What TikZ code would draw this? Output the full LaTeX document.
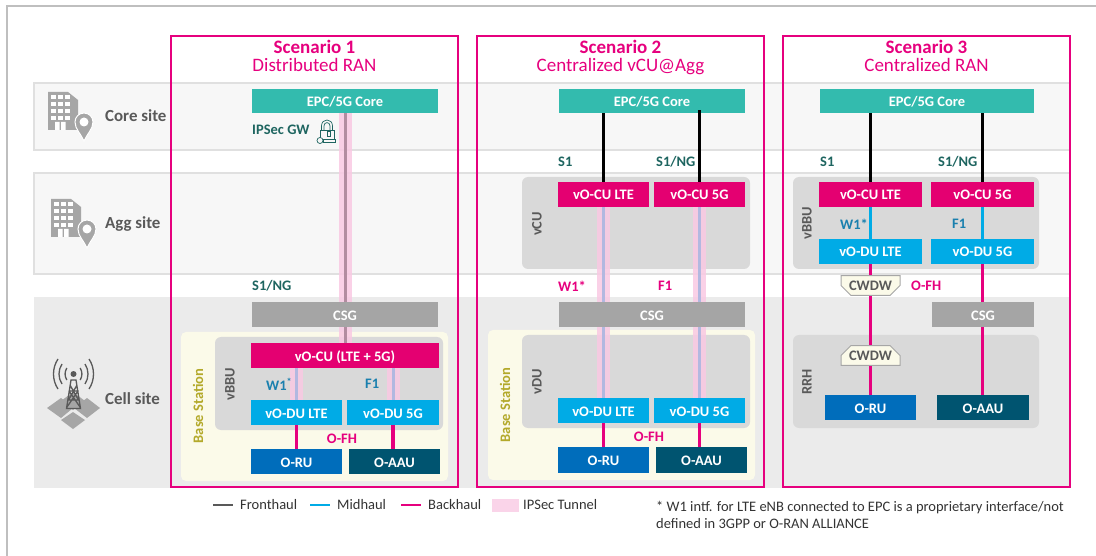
\documentclass[tikz,border=0pt]{standalone}
\usepackage{fontspec}
\setmainfont{Carlito}
\usepackage{xcolor}
\usetikzlibrary{shapes,arrows.meta,positioning,calc}
\definecolor{ranpink}{RGB}{230,0,126}
\definecolor{cupink}{RGB}{228,0,113}
\definecolor{coreteal}{RGB}{51,187,174}
\definecolor{ducyan}{RGB}{0,171,230}
\definecolor{rublue}{RGB}{0,109,187}
\definecolor{aaublue}{RGB}{0,84,112}
\definecolor{csggray}{RGB}{165,165,165}
\definecolor{boxgray}{RGB}{217,217,217}
\definecolor{textgray}{RGB}{89,89,89}
\definecolor{labelgreen}{RGB}{30,101,96}
\definecolor{labelblue}{RGB}{26,128,174}
\definecolor{stationyellow}{RGB}{251,250,233}
\definecolor{stationtext}{RGB}{179,169,42}
\definecolor{tunnelpink}{RGB}{249,201,227}
\definecolor{tunnelgray}{RGB}{178,140,160}
\definecolor{tunnelblue}{RGB}{178,184,224}
\definecolor{iconedge}{RGB}{166,166,166}
\pgfdeclarelayer{under}
\pgfdeclarelayer{wires}
\pgfsetlayers{under,wires,main}
\begin{document}
\begin{tikzpicture}[
    x=1pt, y=-1pt,
    region/.style={rectangle, inner sep=0pt, text height=12pt, text depth=1pt, font=\fontsize{14.5}{16}\selectfont\bfseries, text=white, align=center},
    band/.style={rectangle, draw=black!12, line width=2pt, fill=black!3, minimum width=1036pt},
    holder/.style={rectangle, rounded corners=6pt, fill=boxgray, minimum width=228pt},
    station/.style={rectangle, rounded corners=5pt, fill=stationyellow, minimum width=267pt},
    scenario/.style={rectangle, draw=ranpink, line width=2pt, minimum width=287pt, minimum height=451pt},
    title/.style={align=center, anchor=north, inner sep=0pt, text=ranpink, font=\fontsize{19}{18}\selectfont},
    tag/.style={font=\fontsize{14.5}{16}\selectfont\bfseries, inner sep=0pt},
    vtag/.style={tag, rotate=90, text=textgray},
    sitelabel/.style={font=\fontsize{16.9}{18}\selectfont\bfseries, text=textgray, anchor=west, inner sep=0pt},
    legend/.style={font=\fontsize{14.5}{17}\selectfont, text=black!80, anchor=west, inner sep=0pt},
    cwdw/.style={chamfered rectangle, chamfered rectangle xsep=5pt, chamfered rectangle ysep=5pt, inner sep=0pt, draw=black!35, line width=1pt, fill=stationyellow, text=textgray, font=\fontsize{14.5}{15}\selectfont\bfseries, minimum width=59pt, minimum height=19pt},
    tunnel/.style={line width=13pt, tunnelpink, opacity=0.85},
    tunnelcore/.style={line width=3pt, tunnelgray},
    tunnelmid/.style={line width=3pt, tunnelblue},
    sgi/.style={line width=3pt, black},
    midlink/.style={line width=3pt, ducyan},
    backlink/.style={line width=3.5pt, ranpink},
    site/.pic={
        \fill[iconedge] (0,0) -- (20,0) -- (30,8) -- (30,38) -- (0,38) -- cycle;
        \foreach \a in {3,10,17} \foreach \b in {3,10,17,24} \fill[white] (\a,\b) rectangle ++(4.5,4.5);
        \fill[white] (7,30) rectangle (11.5,38) (13,30) rectangle (17.5,38);
        \fill[iconedge, draw=white, line width=1pt] (36,49) .. controls (33,42) and (27,37) .. (27,30) .. controls (27,25) and (31,21) .. (36,21) .. controls (41,21) and (45,25) .. (45,30) .. controls (45,37) and (39,42) .. (36,49) -- cycle;
        \fill[white] (36,30) circle[radius=4.5];
    }
]
\useasboundingbox (0,0) rectangle (1096,556);
% Site bands
\begin{pgfonlayer}{under}
\draw[black!25, line width=2pt] (7,556) -- (7,6) -- (1096,6);
\node[band, minimum height=67pt] (coreband) at (552,116.5) {};
\node[band, minimum height=101pt] (aggband) at (552,223.5) {};
\node[rectangle, fill=black!8, minimum width=1037pt, minimum height=191pt] (cellband) at (552.5,392.5) {};

% Holders
\node[station, minimum height=149pt] (base1) at (314.5,406.5) {};
\node[holder, minimum height=93pt] (vbbu1) at (329,383.5) {};
\node[holder, minimum height=92pt] (vcu2) at (636,223) {};
\node[station, minimum height=150pt] (base2) at (621.5,405) {};
\node[holder, minimum height=93pt] (vdu2) at (636,381.5) {};
\node[holder, minimum width=246pt, minimum height=92pt] (vbbu3) at (916,223) {};
\node[holder, minimum width=246pt, minimum height=93pt] (rrh3) at (916,381.5) {};
\end{pgfonlayer}

% Scenario 1 blocks
\node[region, fill=coreteal, minimum width=186pt, minimum height=24pt] (core1) at (345,101) {EPC/5G Core};
\node[region, fill=csggray, minimum width=186pt, minimum height=25pt] (csg1) at (345,314.5) {CSG};
\node[region, fill=cupink, minimum width=188pt, minimum height=25pt] (cu1) at (345,355.5) {vO-CU (LTE + 5G)};
\node[region, fill=ducyan, minimum width=91pt, minimum height=25pt] (dulte1) at (296.5,412.5) {vO-DU LTE};
\node[region, fill=ducyan, minimum width=92pt, minimum height=25pt] (du5g1) at (393,412.5) {vO-DU 5G};
\node[region, fill=rublue, minimum width=91pt, minimum height=25pt] (oru1) at (296.5,461.5) {O-RU};
\node[region, fill=aaublue, minimum width=91pt, minimum height=25pt] (oaau1) at (394.5,461.5) {O-AAU};

% Scenario 2 blocks
\node[region, fill=coreteal, minimum width=186pt, minimum height=24pt] (core2) at (652,101) {EPC/5G Core};
\node[region, fill=cupink, minimum width=91pt, minimum height=25pt] (culte2) at (603.5,194.5) {vO-CU LTE};
\node[region, fill=cupink, minimum width=91pt, minimum height=25pt] (cu5g2) at (699.5,194.5) {vO-CU 5G};
\node[region, fill=csggray, minimum width=186pt, minimum height=25pt] (csg2) at (652,314.5) {CSG};
\node[region, fill=ducyan, minimum width=91pt, minimum height=25pt] (dulte2) at (603.5,410.5) {vO-DU LTE};
\node[region, fill=ducyan, minimum width=91pt, minimum height=25pt] (du5g2) at (699.5,410.5) {vO-DU 5G};
\node[region, fill=rublue, minimum width=91pt, minimum height=26pt] (oru2) at (603.5,460) {O-RU};
\node[region, fill=aaublue, minimum width=91pt, minimum height=26pt] (oaau2) at (701.5,460) {O-AAU};

% Scenario 3 blocks
\node[region, fill=coreteal, minimum width=214pt, minimum height=24pt] (core3) at (927,101) {EPC/5G Core};
\node[region, fill=cupink, minimum width=103pt, minimum height=25pt] (culte3) at (870.5,194.5) {vO-CU LTE};
\node[region, fill=cupink, minimum width=103pt, minimum height=25pt] (cu5g3) at (982.5,194.5) {vO-CU 5G};
\node[region, fill=ducyan, minimum width=103pt, minimum height=25pt] (dulte3) at (870.5,251.5) {vO-DU LTE};
\node[region, fill=ducyan, minimum width=103pt, minimum height=25pt] (du5g3) at (982.5,251.5) {vO-DU 5G};
\node[region, fill=csggray, minimum width=102pt, minimum height=25pt] (csg3) at (983,314.5) {CSG};
\node[region, fill=rublue, minimum width=91pt, minimum height=25pt] (oru3) at (870.5,407.5) {O-RU};
\node[region, fill=aaublue, minimum width=92pt, minimum height=25pt] (oaau3) at (983,407.5) {O-AAU};
\node[cwdw, chamfered rectangle corners={south east,south west}] (cwdwtop) at (870.5,285.5) {CWDW};
\node[cwdw, chamfered rectangle corners={north east,north west}] (cwdwlow) at (870.5,355.5) {CWDW};

% Links
\begin{pgfonlayer}{wires}
\draw[tunnel] (core1.south) -- (cu1.north);
\draw[tunnelcore] (core1.south) -- (cu1.north);
\draw[tunnel] (dulte1.north) -- (dulte1.north |- cu1.south);
\draw[tunnelmid] (dulte1.north) -- (dulte1.north |- cu1.south);
\draw[tunnel] (du5g1.north) -- (du5g1.north |- cu1.south);
\draw[tunnelmid] (du5g1.north) -- (du5g1.north |- cu1.south);
\draw[tunnel] (culte2.south) -- (dulte2.north);
\draw[tunnelmid] (culte2.south) -- (dulte2.north);
\draw[tunnel] (cu5g2.south) -- (du5g2.north);
\draw[tunnelmid] (cu5g2.south) -- (du5g2.north);
\draw[sgi] (culte2.north) -- (culte2.north |- core2.south);
\draw[sgi] (culte3.north) -- (culte3.north |- core3.south);
\draw[sgi] (cu5g3.north) -- (cu5g3.north |- core3.south);
\draw[midlink] (culte3.south) -- (dulte3.north);
\draw[midlink] (cu5g3.south) -- (du5g3.north);
\draw[backlink] (dulte1.south) -- (oru1.north -| dulte1.south);
\draw[backlink] (du5g1.south) -- (oaau1.north -| du5g1.south);
\draw[backlink] (dulte2.south) -- (oru2.north);
\draw[backlink] (du5g2.south) -- (oaau2.north -| du5g2.south);
\draw[backlink] (dulte3.south) -- (oru3.north);
\draw[backlink] (du5g3.south) -- (csg3.north -| du5g3.south);
\draw[backlink] (csg3.south -| du5g3.south) -- (oaau3.north -| du5g3.south);
\end{pgfonlayer}
\draw[sgi, shorten >=-3pt] (cu5g2.north) -- (cu5g2.north |- core2.south);

% Holder tags
\node[vtag, text=stationtext] (basetag1) at (198,406) {Base Station};
\node[vtag] (vbbutag1) at (230,384) {vBBU};
\node[vtag, text=stationtext] (basetag2) at (505,405) {Base Station};
\node[vtag] (vcutag2) at (537,224) {vCU};
\node[vtag] (vdutag2) at (537,382) {vDU};
\node[vtag] (vbbutag3) at (807,223) {vBBU};
\node[vtag] (rrhtag3) at (807,382) {RRH};

% Interface labels
\node[tag, text=labelgreen, anchor=west] (ipsec) at (252,130) {IPSec GW};
\node[tag, text=labelgreen, anchor=west] (s1ng1) at (252,286) {S1/NG};
\node[tag, text=labelblue, anchor=west] (w11) at (266,384) {W1\textsuperscript{*}};
\node[tag, text=labelblue, anchor=west] (f11) at (365,384) {F1};
\node[tag, text=ranpink] (ofh1) at (342,439) {O-FH};
\node[tag, text=labelgreen, anchor=west] (s12) at (558,162) {S1};
\node[tag, text=labelgreen, anchor=west] (s1ng2) at (656,162) {S1/NG};
\node[tag, text=ranpink, anchor=west] (w12) at (558,286) {W1*};
\node[tag, text=ranpink, anchor=west] (f12) at (658,286) {F1};
\node[tag, text=ranpink] (ofh2) at (649,437) {O-FH};
\node[tag, text=labelgreen, anchor=west] (s13) at (820,162) {S1};
\node[tag, text=labelgreen, anchor=west] (s1ng3) at (938,162) {S1/NG};
\node[tag, text=labelblue, anchor=west] (w13) at (840,224) {W1*};
\node[tag, text=labelblue, anchor=west] (f13) at (952,224) {F1};
\node[tag, text=ranpink, anchor=west] (ofh3) at (911,286) {O-FH};

% Lock
\draw[labelgreen, line width=0.7pt, fill=none] (320,130) rectangle (334,141);
\draw[labelgreen, line width=0.7pt] (321.5,130) -- (321.5,126) .. controls (321.5,118) and (332.5,118) .. (332.5,126) -- (332.5,130);
\draw[labelgreen, line width=0.7pt] (324,130) -- (324,126) .. controls (324,121.5) and (330,121.5) .. (330,126) -- (330,130);
\draw[labelgreen, line width=0.7pt, fill=black!3] (320,140.5) circle[radius=3];
\draw[labelgreen, line width=0.7pt, fill=black!3] (323,139.5) rectangle (335,142.5);
\draw[labelgreen, line width=0.7pt] (327,131) rectangle (330,136);

% Site icons
\pic at (48,92) {site};
\pic at (51,199) {site};
\node[sitelabel] (corelabel) at (105,116) {Core site};
\node[sitelabel] (agglabel) at (105,224) {Agg site};
\node[sitelabel] (celllabel) at (105,398.5) {Cell site};
\fill[iconedge] (47,408) -- (61,398) -- (73,408) -- (61,418) -- cycle;
\fill[iconedge] (73,392) -- (85,401) -- (73,410) -- (61,401) -- cycle;
\fill[iconedge] (74,408) -- (87,398) -- (100,408) -- (87,418) -- cycle;
\fill[iconedge] (73,412) -- (85,420) -- (73,429) -- (61,420) -- cycle;
\draw[textgray, line width=1.3pt] (66.5,408.5) -- (71,380) -- (76,380) -- (80.5,408.5) -- cycle (67.5,400) -- (79.5,400) (68.5,391) -- (78.5,391) (67,407) -- (78,391) (80,407) -- (69,391) (68.5,400) -- (77,385) (78.5,400) -- (70,385);
\fill[textgray] (73.5,374) circle[radius=3];
\draw[textgray, line width=1.3pt] (66.8,368) .. controls (64.5,372) and (64.5,376) .. (66.8,380) (80.2,368) .. controls (82.5,372) and (82.5,376) .. (80.2,380);
\draw[textgray, line width=1.3pt] (62,364) .. controls (58,370) and (58,378) .. (62,384) (85,364) .. controls (89,370) and (89,378) .. (85,384);
\draw[textgray, line width=1.3pt] (58,359) .. controls (52,368) and (52,380) .. (58,389) (89,359) .. controls (95,368) and (95,380) .. (89,389);

% Scenario frames
\node[scenario] (scenario1) at (314.5,261.5) {};
\node[scenario] (scenario2) at (620.5,261.5) {};
\node[scenario] (scenario3) at (926.5,261.5) {};
\node[title] (title1) at (314.5,40) {\textbf{Scenario 1}\\Distributed RAN};
\node[title] (title2) at (620.5,40) {\textbf{Scenario 2}\\Centralized vCU@Agg};
\node[title] (title3) at (926.5,40) {\textbf{Scenario 3}\\Centralized RAN};

% Legend
\coordinate (frontstart) at (213,505);
\coordinate (midstart) at (310,505);
\coordinate (backstart) at (401,505);
\draw[textgray, line width=2pt] (frontstart) -- ++(20,0);
\node[legend] (fronttext) at (240,505) {Fronthaul};
\draw[ducyan, line width=2pt] (midstart) -- ++(20,0);
\node[legend] (midtext) at (337,505) {Midhaul};
\draw[ranpink, line width=2pt] (backstart) -- ++(20,0);
\node[legend] (backtext) at (428,505) {Backhaul};
\fill[tunnelpink!80] (492,499) rectangle (519,512);
\node[legend] (tunneltext) at (523,505) {IPSec Tunnel};
\node[legend, align=left] (footnote) at (656,514.5) {* W1 intf. for LTE eNB connected to EPC is a proprietary interface/not\\defined in 3GPP or O-RAN ALLIANCE};
\end{tikzpicture}
\end{document}
